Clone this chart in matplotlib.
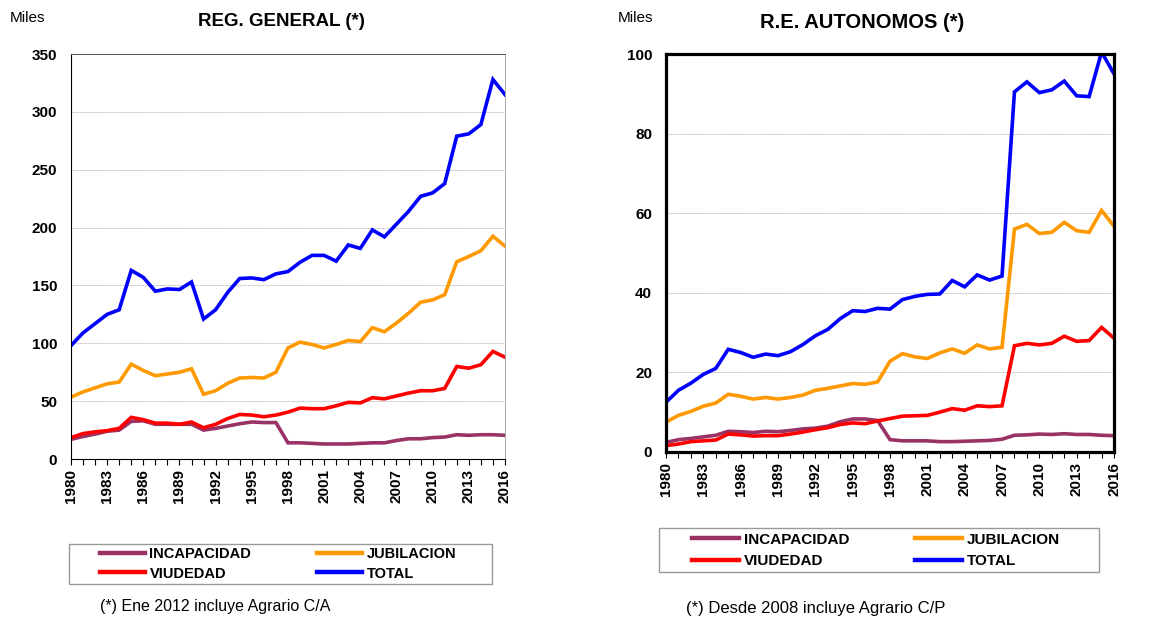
import numpy as np
import matplotlib.pyplot as plt
from matplotlib.patches import Rectangle
from matplotlib.ticker import MultipleLocator

plt.rcParams['font.family'] = ['Liberation Sans', 'DejaVu Sans']

years = list(range(1980, 2017))

# Regimen general (miles)
gen_incapacidad = [17, 19.5, 21.5, 24, 25, 32.5, 33, 30, 30, 30, 30, 25, 26.5, 28.5, 30.5, 32,
                   31.5, 31.5, 14, 14, 13.5, 13, 13, 13, 13.5, 14, 14, 16, 17.5, 17.5, 18.5, 19,
                   21, 20.5, 21, 21, 20.5]
gen_jubilacion = [53.5, 58, 61.5, 65, 66.5, 82, 76.5, 72, 73.5, 75, 78, 56, 59, 65.5, 70, 70.5,
                  70, 75, 96, 101, 99, 96, 99, 102.5, 101.5, 113.5, 110, 117.5, 126, 135.5,
                  137.5, 142, 170.5, 175, 180, 192.5, 184]
gen_viudedad = [18.5, 22, 23.5, 24.5, 26.5, 36, 34, 31, 31, 30, 32, 27, 30, 35, 38.5, 38, 36.5,
                38, 40.5, 44, 43.5, 43.5, 46, 49, 48.5, 53, 52, 54.5, 57, 59, 59, 61, 80, 78.5,
                81.5, 93, 88]
gen_total = [98, 109, 117, 125, 129, 163, 157, 145, 147, 146.5, 153, 121, 129, 144, 156, 156.5,
             155, 160, 162, 170, 176, 176, 171, 185, 182, 198, 192, 203, 214, 227, 230, 238,
             279, 281, 289, 328, 315]

# Regimen especial autonomos (miles)
aut_incapacidad = [2.4, 3.1, 3.4, 3.8, 4.2, 5.2, 5.1, 4.9, 5.2, 5.1, 5.4, 5.8, 6, 6.5, 7.6, 8.3,
                   8.3, 7.9, 3.1, 2.8, 2.8, 2.8, 2.6, 2.6, 2.7, 2.8, 2.9, 3.2, 4.2, 4.3, 4.5,
                   4.4, 4.6, 4.4, 4.4, 4.2, 4.1]
aut_jubilacion = [7.5, 9.2, 10.2, 11.5, 12.3, 14.5, 14, 13.3, 13.7, 13.3, 13.7, 14.3, 15.5, 16,
                  16.6, 17.2, 17, 17.6, 22.8, 24.7, 23.9, 23.5, 24.9, 25.9, 24.8, 26.9, 25.9,
                  26.3, 56, 57.2, 54.9, 55.2, 57.7, 55.6, 55.2, 60.7, 56.7]
aut_viudedad = [1.6, 2, 2.6, 2.8, 3, 4.5, 4.3, 4, 4.1, 4.1, 4.5, 5, 5.6, 6.1, 6.9, 7.3, 7.1,
                7.8, 8.4, 9, 9.1, 9.2, 10, 10.9, 10.5, 11.6, 11.4, 11.6, 26.7, 27.3, 26.9,
                27.3, 29.1, 27.8, 28, 31.3, 28.6]
aut_total = [12.5, 15.5, 17.3, 19.5, 21, 25.8, 25, 23.8, 24.6, 24.2, 25.2, 27, 29.2, 30.8, 33.5,
             35.5, 35.3, 36.1, 35.9, 38.3, 39.1, 39.6, 39.7, 43.1, 41.5, 44.5, 43.2, 44.2,
             90.5, 93, 90.3, 91, 93.2, 89.5, 89.3, 100.5, 95]

labels = ['INCAPACIDAD', 'VIUDEDAD', 'JUBILACION', 'TOTAL']
colors = ['#993366', '#ff0000', '#ff9900', '#0000ff']

W, H = 1167, 623
fig = plt.figure(figsize=(W / 100, H / 100), dpi=100)
ax1 = fig.add_axes([0.0608, 0.2632, 0.3719, 0.6501])
ax2 = fig.add_axes([0.5707, 0.2745, 0.3839, 0.6388])


def draw(ax, series, ymax, ystep, thick_box):
    for vals, lab, col in zip(series, labels, colors):
        ax.plot(years, vals, color=col, lw=2.6, label=lab, solid_joinstyle='miter')
    ax.set_xlim(1980, 2016)
    ax.set_ylim(0, ymax)
    ax.yaxis.set_major_locator(MultipleLocator(ystep))
    ax.set_xticks(years[::3])
    ax.set_xticks(years, minor=True)
    ax.tick_params(axis='x', which='both', direction='out', length=4, width=0.8,
                   rotation=90, labelsize=11)
    ax.tick_params(axis='y', length=0, labelsize=11, pad=10)
    for t in ax.get_xticklabels() + ax.get_yticklabels():
        t.set_fontweight('bold')
    ax.grid(axis='y', color='#a0a0a0', lw=0.6, ls=(0, (1, 1)))
    ax.set_axisbelow(True)
    if thick_box:
        for s in ax.spines.values():
            s.set_linewidth(2.3)
            s.set_color('black')
    else:
        ax.spines['left'].set_color('black')
        ax.spines['bottom'].set_color('black')
        ax.spines['top'].set_color('#555555')
        ax.spines['top'].set_linewidth(0.7)
        ax.spines['right'].set_color('#aaaaaa')
        ax.spines['right'].set_linewidth(0.7)


draw(ax1, [gen_incapacidad, gen_viudedad, gen_jubilacion, gen_total], 350, 50, False)
draw(ax2, [aut_incapacidad, aut_viudedad, aut_jubilacion, aut_total], 100, 20, True)

# titles and units
fig.text(281 / W, 1 - 21 / H, 'REG. GENERAL (*)', ha='center', va='center',
         fontsize=13.5, fontweight='bold')
fig.text(862 / W, 1 - 23 / H, 'R.E. AUTONOMOS (*)', ha='center', va='center',
         fontsize=14.5, fontweight='bold')
fig.text(10 / W, 1 - 18 / H, 'Miles', ha='left', va='center', fontsize=11)
fig.text(618 / W, 1 - 18 / H, 'Miles', ha='left', va='center', fontsize=11)

# legends: frame drawn as a rectangle, entries placed inside
legend_specs = [
    (ax1, (69, 544, 492, 584), (278, 564), 10.5, 0.35, 4.5),
    (ax2, (659, 528, 1099, 572), (876, 550.5), 11, 0.5, 4.3),
]
for ax, (x0, y0, x1, y1), (cx, cy), fs, lsp, csp in legend_specs:
    fig.patches.append(Rectangle((x0 / W, 1 - y1 / H), (x1 - x0) / W, (y1 - y0) / H,
                                 transform=fig.transFigure, fill=False,
                                 edgecolor='#999999', lw=1))
    h, l = ax.get_legend_handles_labels()
    leg = fig.legend(h, l, ncol=2, loc='center', bbox_to_anchor=(cx / W, 1 - cy / H),
                     frameon=False, prop={'weight': 'bold', 'size': fs},
                     handlelength=3.1, columnspacing=csp, labelspacing=lsp,
                     borderpad=0, handletextpad=0.3)
    for line in leg.get_lines():
        line.set_linewidth(3.2)

fig.text(100 / W, 1 - 607 / H, '(*) Ene 2012 incluye Agrario C/A', ha='left',
         va='center', fontsize=11.5)
fig.text(686 / W, 1 - 609 / H, '(*) Desde 2008 incluye Agrario C/P', ha='left',
         va='center', fontsize=12)

fig.savefig('out.png', dpi=100, facecolor='white')
